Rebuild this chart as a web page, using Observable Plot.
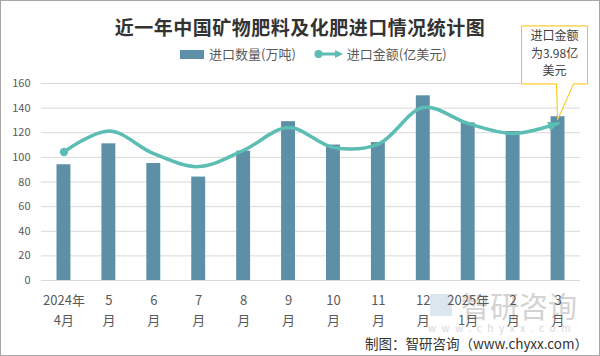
<!DOCTYPE html>
<html>
<head>
<meta charset="utf-8">
<script src="https://cdn.jsdelivr.net/npm/d3@7"></script>
<script src="https://cdn.jsdelivr.net/npm/@observablehq/plot@0.6"></script>
<style>
  html, body { margin: 0; padding: 0; background: #fff; }
  #wrap { position: relative; width: 600px; height: 356px; overflow: hidden; background: #fff;
          font-family: "Noto Sans CJK SC", "Noto Sans", sans-serif; }
  #border { position: absolute; left: 0; top: 0; width: 598px; height: 354px; border: 1px solid #a6a6a6; pointer-events: none; }
  #title { position: absolute; left: 0; top: 15px; width: 600px; height: 24px; line-height: 24px; text-align: center;
           font-size: 19px; font-weight: bold; color: #333; letter-spacing: 0.5px; }
  #legend { position: absolute; left: 180px; top: 46px; height: 16px; line-height: 16px; font-size: 13px; color: #595959;
            display: flex; align-items: center; white-space: nowrap; }
  #legend svg { display: block; }
  #chart { position: absolute; left: 0; top: 66px; }
  #footer { position: absolute; right: 12px; top: 335px; line-height: 16px; font-size: 13.5px; color: #333; }
  #wm { position: absolute; left: 428px; top: 290px; pointer-events: none; opacity: 0.5; }
  #wm .big { position: absolute; left: 33px; top: 0; font-size: 29px; line-height: 30px; color: #a8a8a8; white-space: nowrap; }
  #wm .logo { position: absolute; left: 2px; top: 4px; width: 22px; height: 22px; background: #b9cfe0; }
  #wm .url { position: absolute; left: 0; top: 32px; font-size: 10px; line-height: 11px; letter-spacing: 5.6px; color: #b0b0b0; white-space: nowrap; }
</style>
</head>
<body>
<div id="wrap">
  <div id="title">近一年中国矿物肥料及化肥进口情况统计图</div>
  <div id="legend">
    <svg width="24" height="9"><rect x="0" y="0" width="24" height="9" fill="#5D8FA6"></rect></svg>
    <span style="margin-left:5px">进口数量(万吨)</span>
    <svg width="30" height="10" style="margin-left:18px"><line x1="4" y1="5" x2="24" y2="5" stroke="#5CBDB4" stroke-width="3"></line><circle cx="4.5" cy="5" r="4" fill="#5CBDB4"></circle><path d="M21,1 L29,5 L21,9 Z" fill="#5CBDB4"></path></svg>
    <span style="margin-left:3px">进口金额(亿美元)</span>
  </div>
  <div id="wm"><div class="logo"></div><div class="big">智研咨询</div><div class="url">www.chyxx.com</div></div>
  <div id="chart"></div>
  <div id="footer">制图：智研咨询（www.chyxx.com）</div>
  <div id="border"></div>
</div>
<script>
// ---- data ----
const months = ["2024年\n4月", "5\n月", "6\n月", "7\n月", "8\n月", "9\n月", "10\n月", "11\n月", "12\n月", "2025年\n1月", "2\n月", "3\n月"];
const quantity = [94, 111, 95, 84, 105, 129, 110, 112, 150, 128, 121, 133];   // 进口数量(万吨)
const amount = [104.4, 121.5, 103, 92.5, 105.8, 124.2, 108, 110.8, 140.5, 127.5, 119.4, 127.6]; // 进口金额(亿美元)
const yTicks = [0, 20, 40, 60, 80, 100, 120, 140, 160];
const calloutLines = ["进口金额", "为3.98亿", "美元"];

const barColor = "#5D8FA6";
const lineColor = "#5CBDB4";

(function () {
  const data = months.map((m, i) => ({ month: m, qty: quantity[i], amt: amount[i] }));

  const chart = Plot.plot({
    width: 600,
    height: 270,
    marginTop: 17,
    marginBottom: 56,
    marginLeft: 41,
    marginRight: 20,
    style: { fontFamily: "'Noto Sans CJK SC', 'Noto Sans', sans-serif", fontSize: "11px", color: "#595959", overflow: "visible", background: "transparent" },
    x: { domain: months, paddingInner: 0.69, paddingOuter: 0.345, round: false, label: null },
    y: { domain: [0, 160], label: null },
    marks: [
      Plot.gridY(yTicks, { stroke: "#d9d9d9", strokeOpacity: 1 }),
      Plot.axisY(yTicks, { tickSize: 0, tickPadding: 11, fontSize: 11, label: null }),
      Plot.axisX({ tickSize: 0, tickPadding: 11, fontSize: 13, lineHeight: 1.5, label: null }),
      Plot.barY(data, { x: "month", y: "qty", fill: barColor }),
      Plot.line(data, { x: "month", y: "amt", stroke: lineColor, strokeWidth: 3.5, curve: "catmull-rom" }),
      Plot.dot(data.slice(0, 1), { x: "month", y: "amt", r: 4.2, fill: lineColor })
    ]
  });
  document.getElementById("chart").appendChild(chart);

  // arrow head at the end of the line
  const svg = d3.select(chart);
  const defs = svg.append("defs");
  defs.append("marker")
    .attr("id", "arrowEnd")
    .attr("markerUnits", "userSpaceOnUse")
    .attr("markerWidth", 11).attr("markerHeight", 11)
    .attr("viewBox", "0 -5 10 10")
    .attr("refX", 9).attr("refY", 0)
    .attr("orient", "auto")
    .append("path").attr("d", "M0,-4.5L10,0L0,4.5Z").attr("fill", lineColor);
  svg.select('g[aria-label="line"] path').attr("marker-end", "url(#arrowEnd)");

  // callout for the last point
  const xs = chart.scale("x"), ys = chart.scale("y");
  const last = data[data.length - 1];
  const px = xs.apply(last.month) + xs.bandwidth / 2;
  const py = ys.apply(last.amt);
  const bl = px - 36, br = px + 30, bt = py - 97, bb = py - 39;
  const g = svg.append("g");
  g.append("path")
    .attr("d", `M${bl},${bt}H${br}V${bb}H${px + 16}L${px},${py - 3}L${px - 1},${bb}H${bl}Z`)
    .attr("fill", "#fff").attr("stroke", "#FFC000").attr("stroke-width", 1);
  g.selectAll("text").data(calloutLines).join("text")
    .attr("x", (bl + br) / 2)
    .attr("y", (d, i) => bt + 10 + i * 17.5)
    .attr("dy", "0.35em")
    .attr("text-anchor", "middle")
    .attr("font-size", 12)
    .attr("fill", "#404040")
    .text(d => d);
})();
</script>
</body>
</html>
